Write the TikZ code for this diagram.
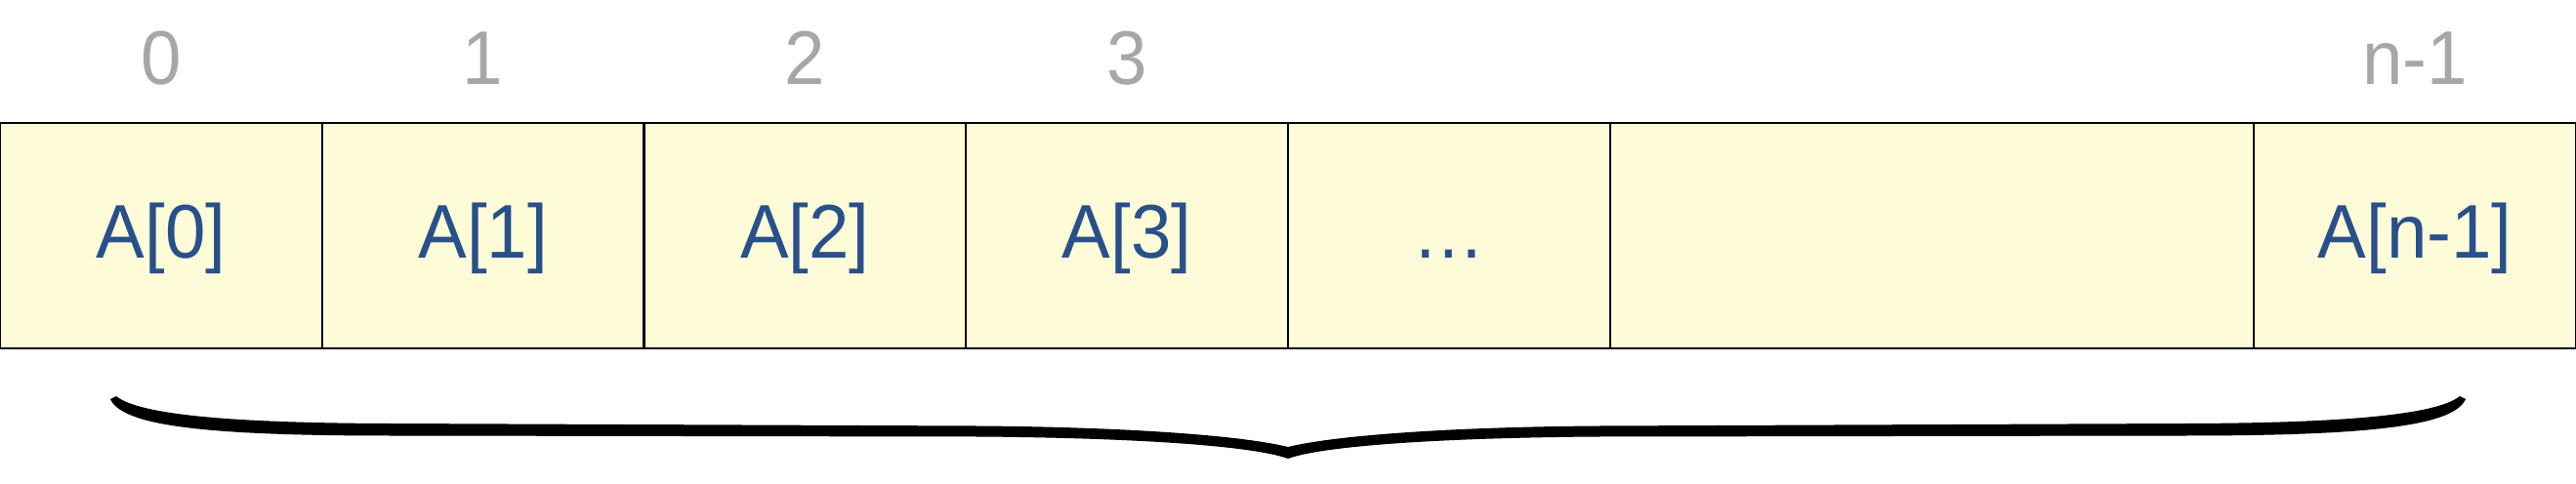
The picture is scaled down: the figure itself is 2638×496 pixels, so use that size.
\documentclass[tikz,border=0pt]{standalone}
\usepackage{fontspec}
\setmainfont{Liberation Sans}
\newfontfamily\cellfont[FakeStretch=0.955]{Liberation Sans}
\definecolor{cellfill}{HTML}{FEFBD8}
\definecolor{celltext}{HTML}{28508A}
\definecolor{idxgray}{HTML}{A6A8A7}
\begin{document}
\begin{tikzpicture}[x=0.5pt,y=-0.5pt,
  cell/.style={draw=black, line width=1.2pt, fill=cellfill, minimum width=164.875pt,
    minimum height=115.5pt, inner sep=0pt, outer sep=0pt, text=celltext,
    font=\cellfont\fontsize{39}{42}\selectfont, text height=35pt, text depth=11.5pt, anchor=north west},
  widecell/.style={cell, minimum width=329.75pt},
  idx/.style={text=idxgray, font=\cellfont\fontsize{39}{42}\selectfont, anchor=base, inner sep=0pt},
  bracefill/.style={fill=black, draw=none}]
\useasboundingbox (0,0) rectangle (2638,496);
\node[cell] (c0) at (0,126) {A[0]};
\node[cell] (c1) at (329.75,126) {A[1]};
\node[cell] (c2) at (659.5,126) {A[2]};
\node[cell] (c3) at (989.25,126) {A[3]};
\node[cell] (c4) at (1319,126) {…};
\node[widecell] (c5) at (1648.75,126) {};
\node[cell] (c6) at (2308.25,126) {A[n-1]};
\node[idx] (i0) at ([yshift=19.5pt]c0.north) {0};
\node[idx] (i1) at ([yshift=19.5pt]c1.north) {1};
\node[idx] (i2) at ([yshift=19.5pt]c2.north) {2};
\node[idx] (i3) at ([yshift=19.5pt]c3.north) {3};
\node[idx] (i6) at ([yshift=19.5pt]c6.north) {n-1};
\fill[bracefill] (119,406) -- (113,409)
  .. controls (125,435) and (200,446.5) .. (400,446.5) -- (1000,447.5)
  .. controls (1150,448.5) and (1280,456) .. (1319,470)
  .. controls (1358,456) and (1488,448.5) .. (1638,447.5) -- (2238,446.5)
  .. controls (2438,446.5) and (2513,435) .. (2525,409) -- (2519,406)
  .. controls (2498,423) and (2418,433.5) .. (2238,434) -- (1638,436.5)
  .. controls (1488,437.5) and (1368,446) .. (1319,458)
  .. controls (1270,446) and (1150,437.5) .. (1000,436.5) -- (400,434)
  .. controls (220,433.5) and (140,423) .. (119,406) -- cycle;
\end{tikzpicture}
\end{document}
